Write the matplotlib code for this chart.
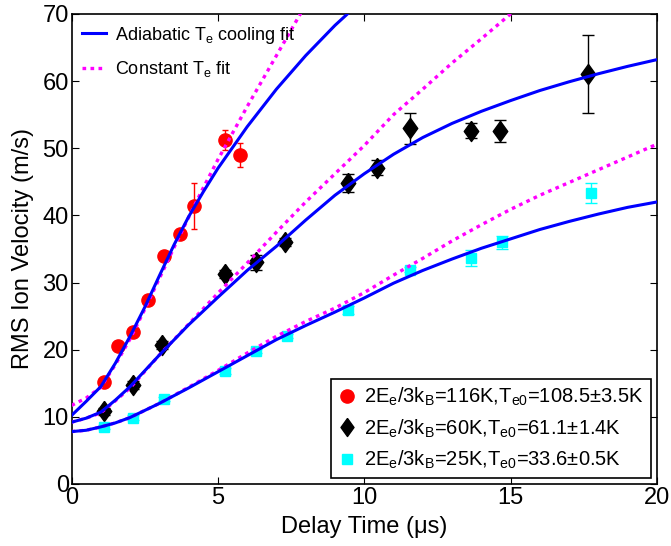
import numpy as np
import matplotlib
matplotlib.use("Agg")
import matplotlib.pyplot as plt
from matplotlib.lines import Line2D

plt.rcParams['font.family'] = ['Liberation Sans', 'DejaVu Sans']
plt.rcParams['mathtext.default'] = 'regular'

# measured rms ion velocity (m/s) vs delay time (us)
t_116 = [1.1, 1.6, 2.1, 2.6, 3.15, 3.7, 4.2, 5.25, 5.75]
v_116 = [15.2, 20.6, 22.7, 27.4, 34.0, 37.2, 41.4, 51.2, 49.0]
e_116 = [0.4, 0.4, 0.5, 0.4, 0.5, 0.6, 3.4, 1.5, 1.8]

t_60 = [1.1, 2.1, 3.1, 5.25, 6.3, 7.3, 9.45, 10.45, 11.55, 13.65, 14.65, 17.65]
v_60 = [10.8, 14.8, 20.7, 31.3, 33.0, 36.0, 44.8, 47.1, 53.0, 52.6, 52.6, 61.0]
e_60 = [0.5, 0.6, 0.6, 0.6, 1.1, 0.6, 1.3, 1.1, 2.3, 1.1, 1.6, 5.8]

t_25 = [1.1, 2.1, 3.15, 5.25, 6.3, 7.35, 9.45, 11.55, 13.65, 14.7, 17.75]
v_25 = [8.5, 9.9, 12.6, 16.8, 19.8, 22.1, 25.9, 31.9, 33.6, 36.0, 43.3]
e_25 = [0.3, 0.3, 0.3, 0.4, 0.3, 0.3, 0.6, 0.4, 1.2, 1.0, 1.5]

# fit curves
ta_116 = [0, 0.5, 1, 1.5, 2, 2.5, 3, 3.5, 4, 4.5, 5, 5.5, 6, 7, 8, 9, 10]
va_116 = [10.2, 12.3, 14.5, 18.0, 22.0, 26.3, 31.0, 35.6, 39.8, 43.5, 47.0, 50.1, 53.2, 58.8, 63.8, 68.3, 72.3]
tc_116 = [0, 0.5, 1, 1.5, 2, 2.5, 3, 3.5, 4, 4.5, 5, 6, 7, 8]
vc_116 = [11.7, 12.8, 14.4, 17.8, 21.6, 26.0, 30.6, 35.2, 39.7, 44.1, 48.3, 56.2, 63.8, 71.4]

ta_60 = [0, 0.5, 1, 1.5, 2, 3, 4, 5, 6, 7, 8, 9, 10, 11, 12, 13, 14, 15, 16, 17, 18, 19, 20]
va_60 = [9.2, 9.8, 10.7, 12.5, 14.5, 19.2, 23.7, 27.8, 31.8, 35.4, 39.3, 43.0, 46.2, 49.1, 51.6, 53.7, 55.5, 57.1, 58.6, 59.9, 61.1, 62.2, 63.2]
tc_60 = [0, 0.5, 1, 1.5, 2, 3, 4, 5, 6, 7, 8, 9, 10, 11, 12, 13, 14, 15, 16]
vc_60 = [9.2, 9.8, 10.6, 12.4, 14.3, 19.2, 23.8, 28.4, 32.9, 37.5, 42.0, 46.2, 50.4, 55.0, 58.8, 62.7, 66.3, 70.0, 73.6]

ta_25 = [0, 0.5, 1, 1.5, 2, 3, 4, 5, 6, 7, 8, 9, 10, 11, 12, 13, 14, 15, 16, 17, 18, 19, 20]
va_25 = [7.8, 8.0, 8.5, 9.1, 9.9, 12.0, 14.3, 16.7, 19.1, 21.5, 23.6, 25.6, 27.7, 29.9, 31.8, 33.5, 35.1, 36.5, 37.9, 39.1, 40.2, 41.2, 42.0]
tc_25 = [0, 0.5, 1, 1.5, 2, 3, 4, 5, 6, 7, 8, 9, 10, 11, 12, 13, 14, 15, 16, 17, 18, 19, 20]
vc_25 = [7.8, 8.0, 8.5, 9.1, 9.9, 12.0, 14.4, 16.9, 19.5, 22.0, 24.2, 26.2, 28.5, 31.1, 33.6, 36.2, 38.6, 40.9, 43.0, 44.9, 46.8, 48.7, 50.6]

labels = ['2E$_e$/3k$_B$=116K,T$_{e0}$=108.5\u00b13.5K',
          '2E$_e$/3k$_B$=60K,T$_{e0}$=61.1\u00b11.4K',
          '2E$_e$/3k$_B$=25K,T$_{e0}$=33.6\u00b10.5K']

# diamond a bit wider than matplotlib's thin 'd'
diamond = [(0, 1), (0.72, 0), (0, -1), (-0.72, 0), (0, 1)]

fig = plt.figure(figsize=(6.71, 5.46), dpi=100)
ax = fig.add_axes([0.1066, 0.1136, 0.8724, 0.8608])

# data points with error bars
ax.errorbar(t_116, v_116, yerr=e_116, fmt='o', color='red', ms=9.5,
            elinewidth=1, capsize=2.5, zorder=2)
ax.errorbar(t_60, v_60, yerr=e_60, fmt='none', ecolor='black',
            elinewidth=1, capsize=4, zorder=2)
ax.plot(t_60, v_60, ls='none', marker=diamond, color='black', ms=14.5, zorder=2)
ax.errorbar(t_25, v_25, yerr=e_25, fmt='s', color='cyan', ms=7.5,
            elinewidth=1, capsize=4, zorder=2)

# fit curves
dot = (0, (1.1, 1.3))
for ta, va, tc, vc in [(ta_116, va_116, tc_116, vc_116),
                       (ta_60, va_60, tc_60, vc_60),
                       (ta_25, va_25, tc_25, vc_25)]:
    ax.plot(tc, vc, color='magenta', lw=2.4, linestyle=dot, zorder=3)
    ax.plot(ta, va, color='blue', lw=2.2, zorder=4)

ax.set_xlim(0, 20)
ax.set_ylim(0, 70)
ax.set_xticks([0, 5, 10, 15, 20])
ax.set_yticks([0, 10, 20, 30, 40, 50, 60, 70])
ax.tick_params(direction='in', top=True, right=True, length=5, width=0.8,
               labelsize=17, pad=2)
for s in ax.spines.values():
    s.set_linewidth(1.2)
ax.set_xlabel('Delay Time (\u03bcs)', fontsize=17, labelpad=5)
ax.set_ylabel('RMS Ion Velocity (m/s)', fontsize=17, labelpad=6)

# legend for the fit curves
h_fit = [Line2D([], [], color='blue', lw=2.2),
         Line2D([], [], color='magenta', lw=2.4, linestyle=dot)]
leg1 = ax.legend(h_fit, ['Adiabatic T$_e$ cooling fit', 'Constant T$_e$ fit'],
                 loc='upper left', frameon=False, fontsize=13,
                 handlelength=1.3, handletextpad=0.5, borderaxespad=0.2,
                 labelspacing=0.75)
ax.add_artist(leg1)

# legend for the data sets
h_pts = [Line2D([], [], marker='o', color='red', ls='none', ms=9.5),
         Line2D([], [], marker=diamond, color='black', ls='none', ms=13),
         Line2D([], [], marker='s', color='cyan', ls='none', ms=7.5)]
leg2 = ax.legend(h_pts, labels, loc='lower right', fontsize=14.5,
                 fancybox=False, edgecolor='black', framealpha=1,
                 handlelength=0.9, handletextpad=0.4, borderaxespad=0.3,
                 labelspacing=0.45, borderpad=0.35)
leg2.get_frame().set_linewidth(1.2)

fig.savefig('out.png', dpi=100)
